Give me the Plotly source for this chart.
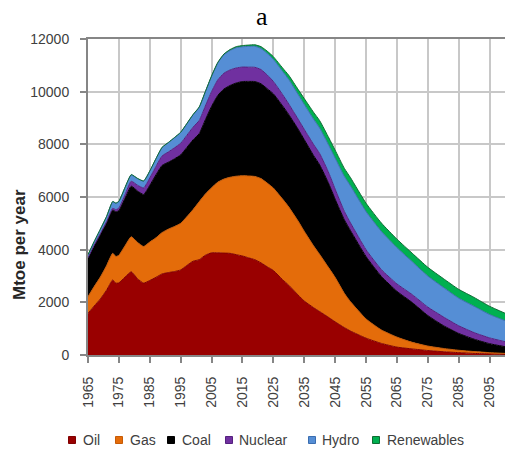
import plotly.graph_objects as go

years = [1965,1967,1969,1971,1973,1974,1975,1977,1979,1981,1983,1985,1987,1989,1991,1993,1995,1997,1999,2001,
         2003,2005,2007,2009,2011,2013,2015,2017,2019,2021,2023,2025,2028,2030,2033,2035,2038,2040,2043,2045,
         2048,2050,2055,2060,2065,2070,2075,2080,2085,2090,2095,2100]

oil = [1580,1860,2130,2460,2850,2730,2740,2960,3160,2900,2730,2830,2950,3080,3130,3170,3230,3400,3560,3620,
       3790,3880,3880,3870,3860,3810,3760,3690,3620,3500,3350,3210,2860,2650,2280,2050,1800,1650,1420,1260,
       1040,910,640,440,300,230,170,125,90,60,40,20]
gas = [635,740,830,930,1010,1010,1050,1190,1330,1380,1390,1460,1500,1570,1650,1710,1770,1850,1960,2200,
       2320,2470,2680,2810,2890,2980,3050,3110,3160,3200,3180,3130,3060,2970,2810,2650,2350,2170,1880,1690,
       1300,1110,730,510,380,250,170,125,90,70,50,40]
coal = [1455,1540,1610,1620,1640,1700,1690,1800,1920,1950,1975,2150,2390,2550,2540,2570,2600,2630,2650,2585,
        2825,3090,3295,3420,3485,3540,3575,3590,3605,3600,3585,3580,3540,3510,3490,3480,3430,3400,3190,2970,
        2790,2700,2370,2030,1740,1510,1160,870,640,470,340,256]
nuclear = [20,30,40,50,70,80,100,140,190,220,250,280,320,360,390,420,440,460,480,500,
           520,560,590,600,590,570,550,540,540,540,520,470,430,400,380,390,420,430,410,380,
           320,290,260,260,280,300,320,330,290,250,220,190]
hydro = [110,130,160,190,250,240,250,270,240,250,255,260,290,320,350,380,410,440,470,500,
         540,580,640,700,740,770,770,790,800,800,820,840,880,930,940,950,960,970,1050,1180,
         1330,1410,1450,1450,1380,1250,1180,1120,1050,1000,890,800]
renewables = [10,10,10,10,10,10,10,10,10,10,10,10,10,10,10,10,10,10,10,15,
              15,20,25,30,35,40,45,50,55,70,85,100,130,160,190,220,260,280,290,300,
              305,310,315,320,320,320,330,335,335,335,310,280]

series_names = ["Oil", "Gas", "Coal", "Nuclear", "Hydro", "Renewables"]
series_values = [oil, gas, coal, nuclear, hydro, renewables]
fill_colors = ["#990000", "#E46C0A", "#000000", "#7030A0", "#558ED5", "#00B050"]
edge_colors = ["#800000", "#C75A05", "#000000", "#55207F", "#3A6DB0", "#0E6B32"]

x_ticks = [1965,1975,1985,1995,2005,2015,2025,2035,2045,2055,2065,2075,2085,2095]
y_ticks = [0,2000,4000,6000,8000,10000,12000]

W, H = 505, 452
L, R, T, B = 88, 0, 39, 97
pw, ph = W - L - R, H - T - B

def px(xp):
    return (xp - L) / pw

def py(yp):
    return (H - B - yp) / ph

fig = go.Figure()
for name, vals, fc, ec in zip(series_names, series_values, fill_colors, edge_colors):
    fig.add_trace(go.Scatter(
        x=years, y=vals, name=name, mode="lines", stackgroup="one",
        fillcolor=fc, line=dict(color=ec, width=1, shape="spline", smoothing=0.5),
        showlegend=False, hoverinfo="x+y+name"))

tick_font = dict(family="Liberation Sans, Arial, sans-serif", size=14, color="#404040")

fig.update_layout(
    width=W, height=H, autosize=False,
    margin=dict(l=L, r=R, t=T, b=B),
    paper_bgcolor="white", plot_bgcolor="white",
    showlegend=False,
    xaxis=dict(range=[1965, 2100], tickmode="array", tickvals=x_ticks,
               ticktext=[str(v) for v in x_ticks], tickangle=-90,
               ticks="outside", ticklen=6, tickcolor="#868686", tickwidth=1.5,
               ticklabelstandoff=8,
               showline=True, linecolor="#868686", linewidth=2, mirror=True,
               showgrid=True, gridcolor="#c8c8c8", gridwidth=1.5,
               zeroline=False, tickfont=tick_font),
    yaxis=dict(range=[0, 12000], tickmode="array", tickvals=y_ticks,
               ticktext=[str(v) for v in y_ticks],
               ticks="outside", ticklen=6, tickcolor="#868686", tickwidth=1.5,
               ticklabelstandoff=8,
               showline=True, linecolor="#868686", linewidth=2,
               showgrid=True, gridcolor="#c8c8c8", gridwidth=1.5,
               zeroline=False, tickfont=tick_font),
)

# title "a"
fig.add_annotation(text="a", xref="paper", yref="paper", x=px(262), y=py(16),
                   xanchor="center", yanchor="middle", showarrow=False,
                   font=dict(family="Liberation Serif, Times New Roman, serif", size=26, color="#000000"))
# y axis title
fig.add_annotation(text="<b>Mtoe per year</b>", xref="paper", yref="paper", x=px(20), y=py(245),
                   xanchor="center", yanchor="middle", textangle=-90, showarrow=False,
                   font=dict(family="Liberation Sans, Arial, sans-serif", size=17, color="#262626"))

# legend (squares + labels)
sq_centers = [72, 119, 171, 229, 312, 376]
text_starts = [81, 128, 180, 237, 320, 385]
leg_y = 440
for name, fc, ec, cx, tx in zip(series_names, fill_colors, edge_colors, sq_centers, text_starts):
    fig.add_shape(type="rect", xref="paper", yref="paper",
                  x0=px(cx - 3.5), x1=px(cx + 3.5), y0=py(leg_y + 3.5), y1=py(leg_y - 3.5),
                  fillcolor=fc, line=dict(color=ec, width=1))
    fig.add_annotation(text=name, xref="paper", yref="paper", x=px(tx), y=py(leg_y),
                       xanchor="left", yanchor="middle", showarrow=False,
                       font=dict(family="Liberation Sans, Arial, sans-serif", size=14, color="#404040"))

fig.write_html("out.html")
